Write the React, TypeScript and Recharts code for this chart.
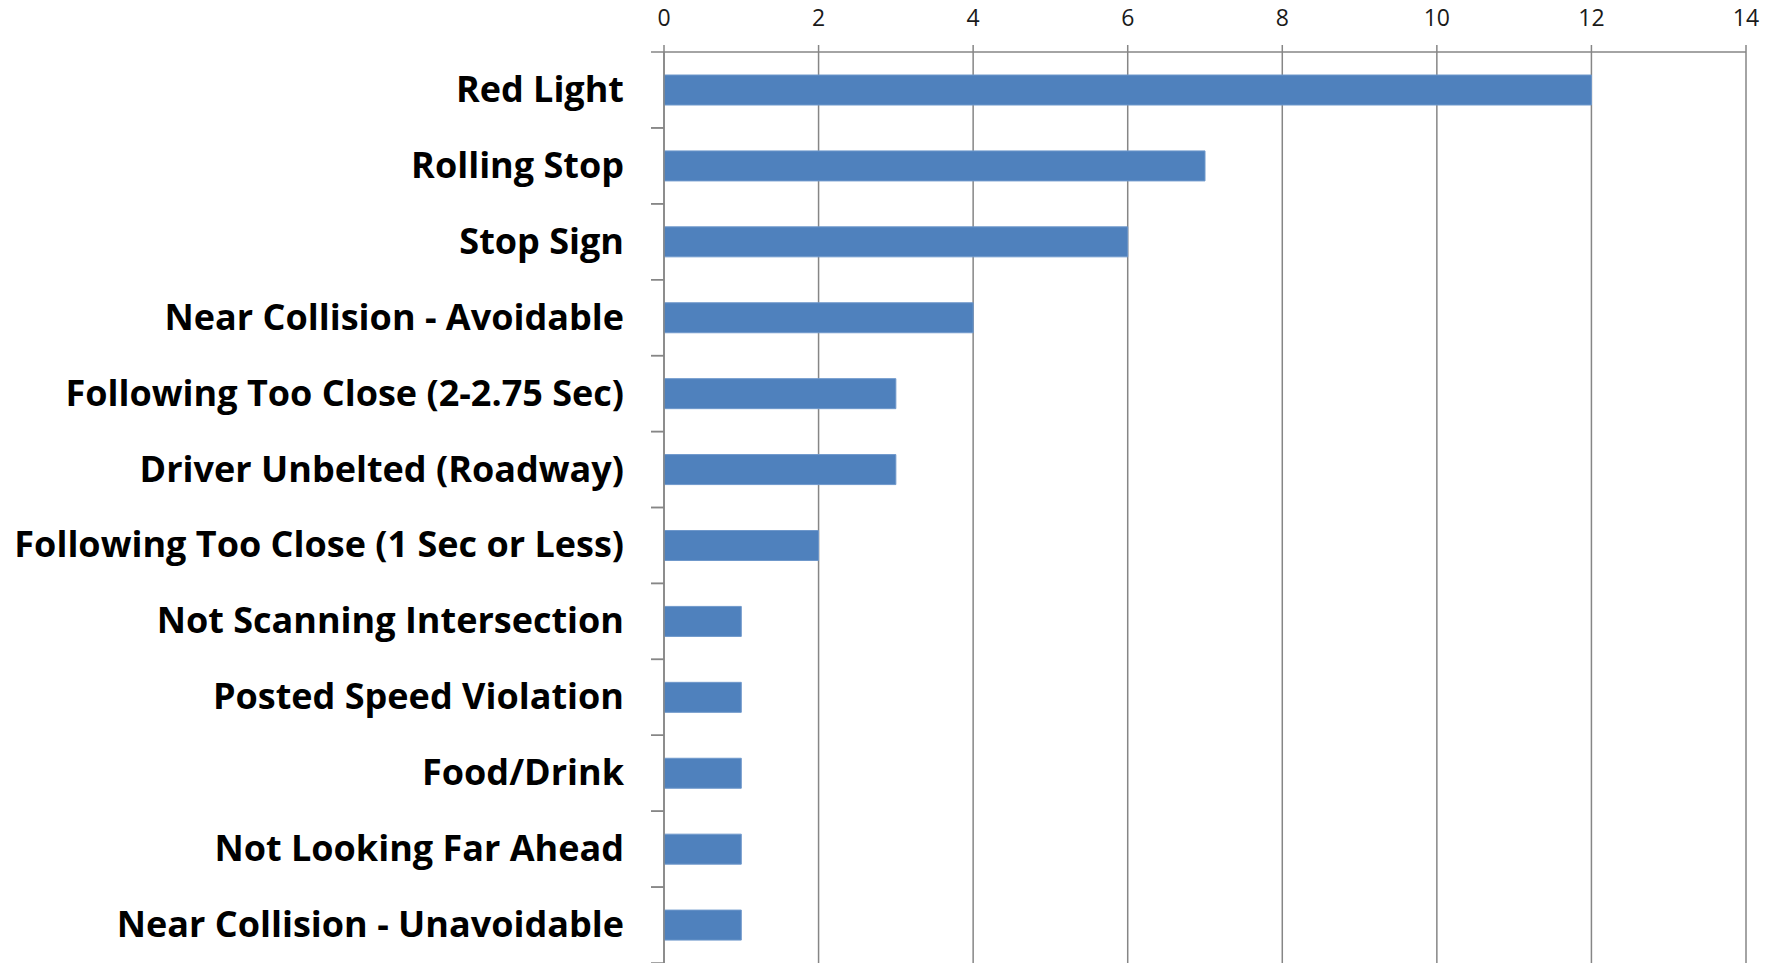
import { BarChart, Bar, XAxis, YAxis, CartesianGrid } from "recharts";

const categories = [
  "Red Light",
  "Rolling Stop",
  "Stop Sign",
  "Near Collision - Avoidable",
  "Following Too Close (2-2.75 Sec)",
  "Driver Unbelted (Roadway)",
  "Following Too Close (1 Sec or Less)",
  "Not Scanning Intersection",
  "Posted Speed Violation",
  "Food/Drink",
  "Not Looking Far Ahead",
  "Near Collision - Unavoidable",
];
const counts = [12, 7, 6, 4, 3, 3, 2, 1, 1, 1, 1, 1];
const xTicks = [0, 2, 4, 6, 8, 10, 12, 14];

const data = categories.map((name, i) => ({ name, value: counts[i] }));

const W = 1774;
const H = 963;
const TOP = 52;
const GRID = "#868686";
const band = (H - TOP) / categories.length;

function CategoryTick(props: any) {
  const { x, y, payload } = props;
  return (
    <g>
      <line x1={x - 13} x2={x} y1={y - band / 2} y2={y - band / 2} stroke={GRID} strokeWidth={1.5} />
      <line x1={x - 13} x2={x} y1={y + band / 2} y2={y + band / 2} stroke={GRID} strokeWidth={1.5} />
      <text
        x={x - 40}
        y={y}
        dy={12}
        textAnchor="end"
        fontFamily="Open Sans"
        fontWeight={700}
        fontSize={36}
        fill="#000"
      >
        {payload.value}
      </text>
    </g>
  );
}

export default function App() {
  return (
    <div style={{ position: "absolute", left: 0, top: 0, width: W, height: H, background: "#fff" }}>
      <BarChart
        width={W}
        height={H}
        data={data}
        layout="vertical"
        margin={{ top: 0, right: 28, left: 0, bottom: 0 }}
        barCategoryGap={0}
      >
        <CartesianGrid horizontal={false} stroke={GRID} strokeWidth={1.5} />
        <XAxis
          type="number"
          orientation="top"
          domain={[0, 14]}
          ticks={xTicks}
          height={TOP}
          axisLine={{ stroke: GRID, strokeWidth: 1.5 }}
          tickLine={{ stroke: GRID, strokeWidth: 1.5 }}
          tickSize={7}
          tickMargin={19}
          tick={{ fontSize: 23, fill: "#1a1a1a", fontFamily: "Open Sans" }}
          interval={0}
        />
        <YAxis
          type="category"
          dataKey="name"
          width={664}
          axisLine={{ stroke: GRID, strokeWidth: 1.5 }}
          tickLine={false}
          tickSize={0}
          tickMargin={0}
          interval={0}
          tick={<CategoryTick />}
        />
        <Bar dataKey="value" fill="#4F81BD" stroke="#6F98CB" strokeWidth={1} barSize={30} isAnimationActive={false} />
      </BarChart>
    </div>
  );
}
